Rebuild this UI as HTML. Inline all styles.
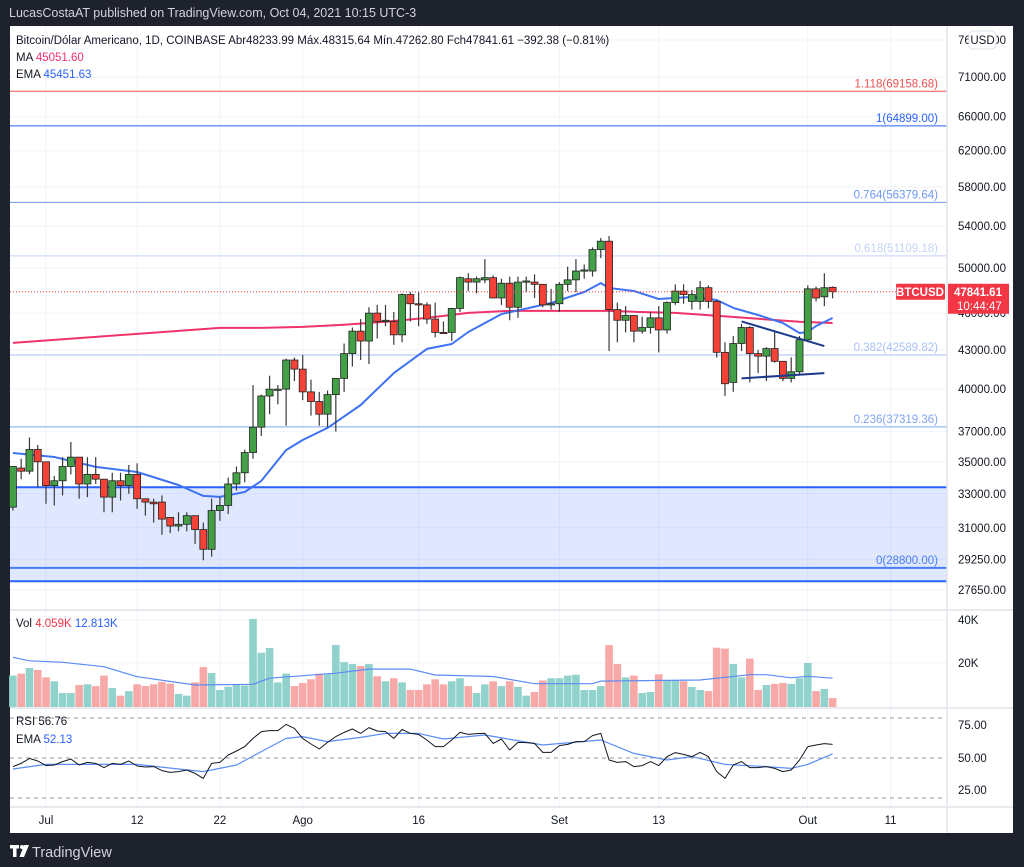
<!DOCTYPE html>
<html><head><meta charset="utf-8">
<style>
html,body{margin:0;padding:0;background:#1e222d;width:1024px;height:867px;overflow:hidden}
svg{display:block}
text{font-family:"Liberation Sans",sans-serif}
</style></head>
<body>
<svg id="chart" width="1024" height="867" xmlns="http://www.w3.org/2000/svg">
  <rect x="0" y="0" width="1024" height="867" fill="#1e222d"/>
  <text x="9" y="17" font-size="12.5" fill="#d1d4dc">LucasCostaAT published on TradingView.com, Oct 04, 2021 10:15 UTC-3</text>
  <rect x="10" y="26" width="1003" height="807" fill="#ffffff"/>
  <g id="grid"></g>
  <g id="fib"></g>
  <g id="marks"></g>
  <g id="overlay"></g>
  <g id="axes"></g>
  <g id="logo">
    <rect x="10" y="845" width="9" height="3.5" fill="#fff"/>
    <rect x="13" y="845" width="3.5" height="12" fill="#fff"/>
    <circle cx="22" cy="847" r="2" fill="#fff"/>
    <polygon points="24,845 29,845 24,857 19.5,857" fill="#fff"/>
    <text x="32" y="857" font-size="14.5" fill="#d1d4dc">TradingView</text>
  </g>
</svg>
<script>
// ---- data ----
const open  = [32200,34600,34400,35800,35000,33500,33800,34700,35300,33600,34200,33900,32800,33800,33500,34200,32700,32500,32500,31600,31100,31200,31700,30900,29800,32000,32300,33600,34300,35600,37300,39500,40000,40000,42200,41500,39800,39100,38200,39600,40800,42700,44500,43700,46000,45300,45300,44200,47600,46800,46700,45500,44400,44400,46400,49000,48700,48900,49100,47300,48600,46500,48700,48700,48500,46700,46800,48500,48900,49700,49700,51700,52500,46300,45400,45800,44500,44800,45600,44600,46900,47900,47000,47000,48200,47000,42800,40500,43500,44800,42700,42500,43100,42100,40800,41300,43800,48100,47400,48234];
const close = [34700,34400,35800,35000,33500,33800,34700,35300,33600,34200,33900,32800,33800,33500,34200,32700,32500,32400,31500,31100,31200,31700,30900,29800,32000,32300,33600,34300,35600,37300,39500,40000,40000,42200,41500,39800,39100,38200,39600,40800,42700,44500,43700,46000,45300,45400,44200,47600,46800,46700,45500,44400,44300,46400,49100,48700,49000,49100,47300,48600,46500,48700,48800,48500,46700,46800,48500,48900,49700,49800,51700,52500,46300,45400,45800,44500,44800,45600,44600,46900,47900,47600,47600,48200,47000,42800,40400,43500,44800,42700,42500,43100,42100,40800,41300,43800,48100,47300,48200,47842];
const high  = [34700,35200,36600,36100,35000,34100,35300,36300,35300,35300,35300,33900,34300,34300,34800,34900,32700,32700,32900,31600,31900,31900,31700,31300,32700,32800,34000,34700,35800,40300,39600,41000,40300,42300,42400,42600,40700,39800,39900,40800,43500,44800,45500,46500,46700,46700,46100,47700,47800,47800,46900,46900,45300,46400,49200,49500,49200,50800,49300,49000,49200,49200,49200,49400,48500,48100,48700,50100,50800,50300,51900,52800,53000,46900,46600,45800,45700,46100,46600,47000,48500,48500,48000,48800,48400,47100,43600,44100,45100,44900,43000,43200,44500,42100,42400,44100,48400,48300,49500,48316];
const low   = [32000,33900,34200,33400,32400,32300,32900,34200,32700,32800,33600,31900,31900,32600,33000,32100,31700,31300,30600,30700,30800,30800,30100,29200,29400,31400,31800,33200,33700,35200,36700,38200,38900,37400,40600,39200,38100,37400,37300,37000,39800,41700,42200,41900,43900,44900,43400,43600,45300,44900,45100,44000,44300,43700,46100,47900,47700,48600,47300,46700,45400,45600,47800,47300,46500,46300,46100,47900,47800,49000,49200,50900,42900,43600,44400,43600,44300,44300,42800,44300,46700,46800,46300,46300,46400,42400,39500,39800,42900,40500,41200,40600,42000,40600,40500,41100,43700,47000,46600,47263];
const volumeK = [14.4,15.3,17.9,17.0,13.6,11.8,6.4,6.4,10.1,10.4,9.6,14.4,8.7,5.2,7.3,10.4,9.6,10.4,11.5,10.7,6.0,5.2,11.3,18.3,15.6,7.8,9.3,10.1,9.9,40.4,24.9,27.1,11.3,15.3,9.6,11.0,12.7,15.3,15.3,28.4,20.6,19.7,18.8,19.7,14.1,11.8,13.2,11.3,7.8,7.8,10.4,12.7,10.4,11.8,13.2,9.6,6.4,10.4,11.8,9.6,11.8,9.2,5.2,6.9,12.2,13.2,13.2,14.4,14.8,7.8,7.8,9.6,28.4,19.7,13.6,14.4,6.4,6.9,15.0,12.2,12.2,11.8,9.2,7.8,7.3,27.2,26.8,19.7,13.6,22.2,7.8,10.1,10.6,11.0,10.6,13.2,20.2,7.3,8.3,4.1];
const rsi = [45.7,47.3,49.8,48.5,46.2,46.5,48.2,49.5,46.5,47.8,47.3,45.2,47.3,46.8,48.5,46.0,45.5,45.7,43.7,42.8,43.2,44.0,42.3,39.8,47.3,47.8,51.5,53.5,55.7,59.8,63.2,63.7,63.7,66.8,64.8,59.8,57.0,54.5,57.8,60.7,62.8,64.5,62.3,65.2,63.5,63.2,59.8,64.3,62.3,61.8,59.0,55.7,55.7,59.0,62.8,61.8,62.2,62.3,57.3,59.5,54.0,57.8,57.7,57.3,52.8,52.8,56.2,56.8,58.2,58.2,61.2,62.3,49.0,47.8,48.2,45.7,46.2,48.2,46.2,50.7,52.7,51.8,50.7,52.8,50.7,43.2,39.8,46.5,48.2,45.2,45.2,45.7,44.8,43.2,44.0,49.0,55.7,56.5,57.2,56.8];
const maIdx  = [0,10,20,25,30,35,40,45,50,55,60,65,70,72,75,80,85,90,95,99];
const maVals = [43550,44030,44520,44770,44770,44850,45020,45270,45600,46020,46190,46190,46190,46190,46110,46020,45770,45520,45270,45170];
const emaIdx  = [0,5,10,15,20,23,25,28,30,33,35,38,42,46,50,53,55,59,65,69,71,72,75,78,82,85,87,90,93,95,96,97,99];
const emaVals = [35570,35310,34670,34350,33540,32870,32810,33110,33790,35760,36430,37250,38850,41200,43070,43460,44430,45920,46860,47820,48610,48170,47910,47210,47390,47120,46440,45840,45170,44350,44430,44920,45590];
const volMaIdx  = [0,2,6,11,15,22,29,31,39,43,48,51,58,63,70,71,83,89,91,94,96,99];
const volMaVals = [22.8,21.2,20.5,18.5,13.9,10.1,10.4,13.2,15.5,17.4,17.4,14.7,14.0,10.7,10.7,11.9,12.4,14.8,14.8,13.4,14.1,13.2];
const rsiEmaIdx  = [0,4,10,15,20,23,27,30,33,35,38,42,45,49,52,57,64,71,75,79,82,86,91,94,96,99];
const rsiEmaVals = [44.5,46.8,46.8,46.8,44.5,43.2,46.5,53.2,59.8,60.7,58.2,60.3,62.3,62.3,59.5,61.5,56.5,59.0,52.3,49.0,50.7,46.8,45.7,44.8,46.8,52.1];
const priceTicks = [76000,71000,66000,62000,58000,54000,50000,46000,43000,40000,37000,35000,33000,31000,29250,27650];
const timeLabels = ["Jul","12","22","Ago","16","Set","13","Out","11"];
const timeIdx    = [4,15,25,35,49,66,78,96,106];
const fibLevels  = ["1.118","1","0.764","0.618","0.382","0.236","0"];
const fibPrices  = [69158.68,64899.00,56379.64,51109.18,42589.82,37319.36,28800.00];
const fibColors  = ["#f05350","#2962ff","#6e97f5","#c3d3f9","#a9c1f6","#7fa3f3","#4a7cf3"];
const zoneTop = 33400, zoneBottom = 28100;
const triUpper = [[88,45300],[98,43300]];
const triLower = [[88,40800],[98,41200]];
const lastPrice = 47841.61;

// ---- scales ----
const NS = "http://www.w3.org/2000/svg";
const X0 = 12.9, DX = 8.28, PLOT_R = 947;
const xs = i => X0 + DX * i;
const yp = p => 77 + Math.log(71000 / p) * 544;
const yv = k => 707 - k * 2.18;
const yr = v => 758 - (v - 50) * 2;
function el(tag, attrs, parent) {
  const e = document.createElementNS(NS, tag);
  for (const k in attrs) e.setAttribute(k, attrs[k]);
  parent.appendChild(e);
  return e;
}
const grid = document.getElementById('grid');
const fib = document.getElementById('fib');
const marks = document.getElementById('marks');
const overlay = document.getElementById('overlay');
const axes = document.getElementById('axes');

// grid
priceTicks.forEach(p => {
  const l = el('line', {x1:10, x2:PLOT_R, y1:yp(p), y2:yp(p), stroke:'#f0f3fa', 'stroke-width':1}, grid);
  
  
});
timeIdx.forEach(i => {
  const l = el('line', {x1:xs(i), x2:xs(i), y1:26, y2:807, stroke:'#f0f3fa', 'stroke-width':1}, grid);
  
  
});
[620, 663].forEach(y => el('line', {x1:10, x2:PLOT_R, y1:y, y2:y, stroke:'#f0f3fa'}, grid));

// fib zone
const zone = el('rect', {x:10, y:yp(zoneTop), width:PLOT_R-10, height:yp(zoneBottom)-yp(zoneTop), fill:'#2962ff', 'fill-opacity':0.15}, fib);


[zoneTop, zoneBottom].forEach(p => {
  const l = el('line', {x1:10, x2:PLOT_R, y1:yp(p), y2:yp(p), stroke:'#2962ff', 'stroke-width':2}, fib);
  
  
});
fibPrices.forEach((p, k) => {
  const y = yp(p);
  const l = el('line', {x1:10, x2:PLOT_R, y1:y, y2:y, stroke:fibColors[k], 'stroke-width': k===6?2:1}, fib);
  
  
  const t = el('text', {x:938, y:y-4, 'font-size':11.5, fill:fibColors[k], 'text-anchor':'end'}, fib);
  t.textContent = fibLevels[k] + '(' + p.toFixed(2) + ')';
  
  
});

// volume bars
volumeK.forEach((v, i) => {
  const up = close[i] >= open[i];
  const b = el('rect', {x:xs(i)-3.8, y:yv(v), width:7.6, height:707-yv(v), fill: up ? '#92d2cc' : '#f7a9a7'}, marks);
  
  
});
function poly(idx, vals, f, color, w, name) {
  const pts = idx.map((i, k) => xs(i).toFixed(1) + ',' + f(vals[k]).toFixed(1)).join(' ');
  const p = el('polyline', {points:pts, fill:'none', stroke:color, 'stroke-width':w, 'stroke-linejoin':'round'}, marks);
  
  
}
poly(volMaIdx, volMaVals, yv, '#5b8cf5', 1.2, 'volume-ma-line');

// RSI
[70, 50, 30].forEach(v => {
  const l = el('line', {x1:10, x2:PLOT_R, y1:yr(v), y2:yr(v), stroke:'#9598a1', 'stroke-dasharray':'4,4'}, marks);
  
  
});
poly(rsiEmaIdx, rsiEmaVals, yr, '#5b8cf5', 1.2, 'rsi-ema-line');
poly(rsi.map((_, i) => i), rsi, yr, '#131722', 1, 'rsi-line');

// MA/EMA
poly(maIdx, maVals, yp, '#f0326a', 2, 'ma-line');
poly(emaIdx, emaVals, yp, '#3f73f3', 2, 'ema-line');

// candles
open.forEach((o, i) => {
  const c = close[i], up = c >= o, x = xs(i);
  const w = el('line', {x1:x, x2:x, y1:yp(high[i]), y2:yp(low[i]), stroke:'#3a3a3a', 'stroke-width':1.2}, marks);
  
  
  const top = yp(Math.max(o, c)), bot = yp(Math.min(o, c));
  const b = el('rect', {x:x-3.5, y:top, width:7, height:Math.max(1.2, bot-top), fill: up ? '#43a047' : '#f44336', stroke:'#222', 'stroke-width':0.8}, marks);
  
  
});

// triangle trendlines
[triUpper, triLower].forEach((t, k) => {
  const l = el('line', {x1:xs(t[0][0]), y1:yp(t[0][1]), x2:xs(t[1][0]), y2:yp(t[1][1]), stroke:'#1e3a8a', 'stroke-width':2}, overlay);
  
  
});
// last price line
const lp = el('line', {x1:10, x2:PLOT_R, y1:yp(lastPrice), y2:yp(lastPrice), stroke:'#f23645', 'stroke-dasharray':'1,2'}, overlay);



// separators
[[10,610,1013,610],[10,708,1013,708],[10,807,1013,807],[PLOT_R,26,PLOT_R,833]].forEach(s => {
  el('line', {x1:s[0], y1:s[1], x2:s[2], y2:s[3], stroke:'#e0e3eb', 'stroke-width':1.5}, axes);
});

// axis labels
priceTicks.forEach(p => {
  const t = el('text', {x:958, y:yp(p)+4, 'font-size':11.5, fill:'#131722'}, axes);
  t.textContent = p.toFixed(2);
  
  
});
timeLabels.forEach((s, k) => {
  const t = el('text', {x:xs(timeIdx[k]), y:824, 'font-size':11.5, fill:'#131722', 'text-anchor':'middle'}, axes);
  t.textContent = s;
  
  
});
[['40K',624],['20K',667],['75.00',729],['50.00',762],['25.00',794]].forEach(a => {
  const t = el('text', {x:958, y:a[1], 'font-size':11.5, fill:'#131722'}, axes);
  t.textContent = a[0];
  
  
});

// price tag
const ly = yp(lastPrice);
const tag1 = el('rect', {x:896, y:ly-8, width:49, height:16, fill:'#f23645', rx:1}, axes);


const tt1 = el('text', {x:920, y:ly+4, 'font-size':11.5, fill:'#fff', 'text-anchor':'middle', 'font-weight':'bold'}, axes);
tt1.textContent = 'BTCUSD';
const tag2 = el('rect', {x:948, y:ly-8, width:61, height:30, fill:'#f23645'}, axes);


const tt2 = el('text', {x:954, y:ly+4, 'font-size':11.5, fill:'#fff', 'font-weight':'bold'}, axes);
tt2.textContent = lastPrice.toFixed(2);
const tt3 = el('text', {x:957, y:ly+18, 'font-size':11.5, fill:'#fff'}, axes);
tt3.textContent = '10:44:47';
</script>
<svg style="position:absolute;left:0;top:0" width="1024" height="867" xmlns="http://www.w3.org/2000/svg">
  <g>
    <rect x="969" y="31" width="27" height="18" rx="4" fill="#fff" stroke="#e0e3eb"/>
    <text x="982.5" y="44" font-size="11.5" fill="#131722" text-anchor="middle" font-family="Liberation Sans, sans-serif">USD</text>
  </g>
  <g font-family="Liberation Sans, sans-serif" font-size="11.5">
    <text x="16" y="44" fill="#131722">Bitcoin/Dólar Americano, 1D, COINBASE  Abr48233.99  Máx.48315.64  Mín.47262.80  Fch47841.61  −392.38 (−0.81%)</text>
    <text x="16" y="61" fill="#131722">MA <tspan fill="#f0326a">45051.60</tspan></text>
    <text x="16" y="78" fill="#131722">EMA <tspan fill="#2962ff">45451.63</tspan></text>
    <text x="16" y="627" fill="#131722">Vol <tspan fill="#f23645">4.059K</tspan> <tspan fill="#2962ff">12.813K</tspan></text>
    <text x="16" y="725" fill="#131722">RSI <tspan>56.76</tspan></text>
    <text x="16" y="743" fill="#131722">EMA <tspan fill="#2962ff">52.13</tspan></text>
  </g>
</svg>
</body></html>
